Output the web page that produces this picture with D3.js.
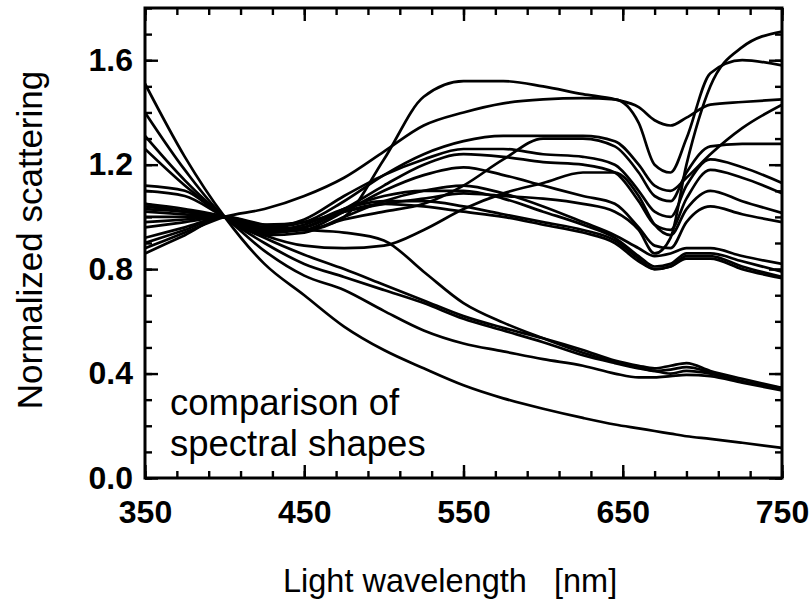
<!DOCTYPE html>
<html>
<head>
<meta charset="utf-8">
<script src="https://cdnjs.cloudflare.com/ajax/libs/d3/7.8.5/d3.min.js"></script>
<style>
  body { margin: 0; background: #fff; }
  text { font-family: "Liberation Sans", Arial, sans-serif; fill: #000; }
</style>
</head>
<body>
<div id="visual"></div>
<script>
// wavelengths (nm) shared by every curve
const wavelengths = [350, 375, 400, 425, 450, 475, 500, 525, 550, 575, 600, 625, 645, 660, 670, 680, 690, 705, 725, 750];

// upper group
const peakCurve   = [0.90, 0.95, 1.00, 0.97, 0.95, 1.00, 1.22, 1.46, 1.52, 1.52, 1.50, 1.47, 1.45, 1.42, 1.37, 1.35, 1.38, 1.43, 1.44, 1.45];
const riseCurve   = [0.88, 0.94, 1.00, 1.03, 1.08, 1.15, 1.25, 1.35, 1.40, 1.435, 1.45, 1.455, 1.45, 1.36, 1.20, 1.17, 1.30, 1.55, 1.60, 1.58];
const highEnd     = [0.86, 0.93, 1.00, 0.97, 0.98, 1.02, 1.05, 1.07, 1.09, 1.08, 1.07, 1.05, 1.02, 0.95, 0.86, 0.92, 1.20, 1.50, 1.65, 1.71];
const plateau     = [0.92, 0.96, 1.00, 0.96, 0.98, 1.06, 1.16, 1.24, 1.29, 1.31, 1.31, 1.31, 1.29, 1.20, 1.12, 1.10, 1.15, 1.24, 1.34, 1.43];
const crossing    = [0.96, 0.98, 1.00, 0.95, 0.95, 0.99, 1.02, 1.05, 1.12, 1.22, 1.30, 1.30, 1.27, 1.17, 1.08, 1.06, 1.17, 1.27, 1.28, 1.28];
const curveB      = [1.00, 1.00, 1.00, 0.96, 0.99, 1.08, 1.16, 1.22, 1.26, 1.26, 1.24, 1.23, 1.20, 1.10, 1.02, 1.00, 1.12, 1.22, 1.19, 1.13];
const curveC      = [1.02, 1.01, 1.00, 0.95, 0.96, 1.03, 1.12, 1.20, 1.24, 1.23, 1.21, 1.20, 1.17, 1.06, 0.97, 0.95, 1.07, 1.18, 1.15, 1.09];
const lowRise     = [0.98, 0.99, 1.00, 0.93, 0.89, 0.88, 0.89, 0.95, 1.03, 1.09, 1.13, 1.17, 1.17, 1.08, 0.97, 0.93, 1.03, 1.10, 1.06, 1.015];
const curveE      = [1.03, 1.02, 1.00, 0.94, 0.95, 1.02, 1.10, 1.16, 1.19, 1.16, 1.12, 1.08, 1.05, 0.96, 0.89, 0.88, 0.98, 1.04, 1.01, 0.98];
const curveF      = [1.04, 1.02, 1.00, 0.93, 0.94, 1.00, 1.06, 1.10, 1.12, 1.09, 1.04, 0.98, 0.93, 0.88, 0.85, 0.86, 0.88, 0.88, 0.85, 0.82];
const curveG      = [1.05, 1.03, 1.00, 0.94, 0.96, 1.03, 1.08, 1.10, 1.10, 1.07, 1.02, 0.97, 0.92, 0.85, 0.81, 0.82, 0.86, 0.86, 0.83, 0.79];
const curveH      = [1.05, 1.02, 1.00, 0.95, 0.97, 1.03, 1.06, 1.06, 1.04, 1.01, 0.98, 0.95, 0.91, 0.84, 0.80, 0.81, 0.85, 0.85, 0.81, 0.77];
const curveI      = [1.10, 1.08, 1.00, 0.94, 0.96, 1.02, 1.05, 1.04, 1.02, 1.00, 0.97, 0.94, 0.90, 0.83, 0.80, 0.81, 0.84, 0.84, 0.80, 0.765];

// lower group
const lowA        = [1.40, 1.18, 1.00, 0.92, 0.855, 0.80, 0.74, 0.68, 0.62, 0.575, 0.535, 0.49, 0.45, 0.43, 0.42, 0.43, 0.44, 0.41, 0.38, 0.345];
const lowB        = [1.31, 1.14, 1.00, 0.90, 0.82, 0.77, 0.72, 0.67, 0.61, 0.565, 0.52, 0.47, 0.44, 0.42, 0.41, 0.40, 0.41, 0.40, 0.37, 0.34];
const lowC        = [1.26, 1.12, 1.00, 0.87, 0.775, 0.72, 0.64, 0.565, 0.515, 0.485, 0.455, 0.43, 0.40, 0.385, 0.385, 0.39, 0.395, 0.39, 0.365, 0.335];
const humpDrop    = [1.12, 1.10, 1.00, 0.96, 0.95, 0.94, 0.91, 0.79, 0.67, 0.595, 0.535, 0.48, 0.445, 0.425, 0.41, 0.415, 0.425, 0.405, 0.37, 0.345];

// steepest, smooth curve
const powerCurve  = [1.51, 1.23, 1.00, 0.82, 0.70, 0.58, 0.49, 0.42, 0.355, 0.305, 0.265, 0.23, 0.205, 0.19, 0.18, 0.17, 0.16, 0.15, 0.135, 0.115];

const allCurves = [peakCurve, riseCurve, highEnd, plateau, crossing, curveB, curveC, lowRise,
                   curveE, curveF, curveG, curveH, curveI, lowA, lowB, lowC, humpDrop, powerCurve];

const xMajor = [350, 450, 550, 650, 750];
const xMinor = d3.range(350, 751, 20);
const yMajor = [0, 0.4, 0.8, 1.2, 1.6];
const yMinor = d3.range(0, 1.81, 0.1);

const w = 811;
const h = 602;
const plotL = 145, plotR = 782, plotT = 8, plotB = 478;

const xScale = d3.scaleLinear().domain([350, 750]).range([plotL, plotR]);
const yScale = d3.scaleLinear().domain([0, 1.8]).range([plotB, plotT]);

const svgC = d3.select("#visual")
  .append("svg")
  .attr("width", w)
  .attr("height", h);

svgC.append("clipPath")
  .attr("id", "plotClip")
  .append("rect")
  .attr("x", plotL).attr("y", plotT)
  .attr("width", plotR - plotL).attr("height", plotB - plotT);

const line = d3.line()
  .x((d, i) => xScale(wavelengths[i]))
  .y(d => yScale(d))
  .curve(d3.curveMonotoneX);

svgC.append("g")
  .attr("clip-path", "url(#plotClip)")
  .selectAll("path")
  .data(allCurves)
  .enter()
  .append("path")
  .attr("d", line)
  .attr("fill", "none")
  .attr("stroke", "#000")
  .attr("stroke-width", 2.7)
  .attr("stroke-linejoin", "round");

// ticks point inward on all four sides
function tickAxis(axis, pos, values, size, labels, pad) {
  const g = svgC.append("g")
    .attr("transform", pos)
    .call(axis.tickValues(values).tickSize(-size).tickPadding(pad)
      .tickFormat(labels ? labels : ""));
  g.select(".domain").remove();
  g.selectAll("line").attr("stroke", "#000").attr("stroke-width", 2.4);
  return g;
}

tickAxis(d3.axisBottom(xScale), "translate(0," + plotB + ")", xMinor, 7, null, 0);
tickAxis(d3.axisBottom(xScale), "translate(0," + plotB + ")", xMajor, 13, d3.format("d"), 22);
tickAxis(d3.axisTop(xScale), "translate(0," + plotT + ")", xMinor, 7, null, 0);
tickAxis(d3.axisTop(xScale), "translate(0," + plotT + ")", xMajor, 13, null, 0);

tickAxis(d3.axisLeft(yScale), "translate(" + plotL + ",0)", yMinor, 7, null, 0);
tickAxis(d3.axisLeft(yScale), "translate(" + plotL + ",0)", yMajor, 13, d3.format(".1f"), 12);
tickAxis(d3.axisRight(yScale), "translate(" + plotR + ",0)", yMinor, 7, null, 0);
tickAxis(d3.axisRight(yScale), "translate(" + plotR + ",0)", yMajor, 13, null, 0);

svgC.selectAll("g text")
  .attr("font-size", 32)
  .attr("font-weight", "bold")
  .attr("fill", "#000")
  .style("font-family", "'Liberation Sans', Arial, sans-serif");

// frame
svgC.append("rect")
  .attr("x", plotL).attr("y", plotT)
  .attr("width", plotR - plotL).attr("height", plotB - plotT)
  .attr("fill", "none")
  .attr("stroke", "#000")
  .attr("stroke-width", 3);

// annotation
svgC.append("text")
  .attr("x", 170).attr("y", 415)
  .attr("font-size", 36.5)
  .text("comparison of");
svgC.append("text")
  .attr("x", 170).attr("y", 456)
  .attr("font-size", 36.5)
  .text("spectral shapes");

// text label for the x axis
svgC.append("text")
  .attr("x", 283).attr("y", 592)
  .attr("font-size", 32.5)
  .style("white-space", "pre")
  .text("Light wavelength   [nm]");

// text label for the y axis
svgC.append("text")
  .attr("transform", "translate(42,240) rotate(-90)")
  .attr("text-anchor", "middle")
  .attr("font-size", 35)
  .text("Normalized scattering");
</script>
</body>
</html>
